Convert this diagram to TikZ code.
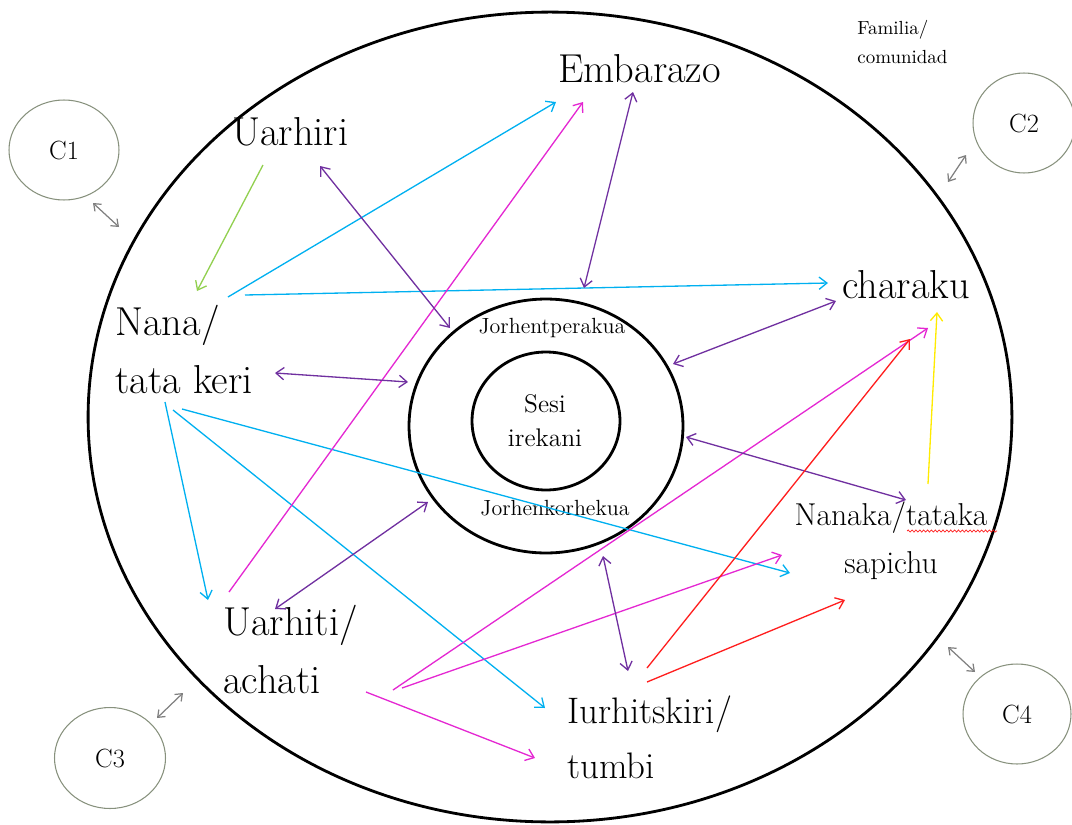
\documentclass[tikz,border=0pt]{standalone}
\usetikzlibrary{arrows.meta,shapes.geometric,decorations.pathmorphing}
\definecolor{cyanA}{RGB}{0,176,240}
\definecolor{magA}{RGB}{228,40,210}
\definecolor{purA}{RGB}{112,48,160}
\definecolor{grnA}{RGB}{146,208,80}
\definecolor{redA}{RGB}{255,30,30}
\definecolor{yelA}{RGB}{255,235,0}
\definecolor{greyA}{RGB}{128,128,128}
\definecolor{circA}{RGB}{135,145,125}
\tikzset{
  mytip/.tip={Straight Barb[length=4.5pt,width=7pt]},
  smalltip/.tip={Straight Barb[length=3.5pt,width=5.5pt]},
  conn/.style={line width=0.75pt,-{mytip}},
  both/.style={line width=0.75pt,{mytip}-{mytip}},
  cboth/.style={line width=0.7pt,draw=greyA,{smalltip}-{smalltip}},
  ring/.style={ellipse,draw=black,line width=1.6pt,inner sep=0pt},
  cring/.style={ellipse,draw=circA,line width=0.6pt,inner sep=0pt,font=\fontsize{15}{18}\selectfont},
  lbl/.style={inner sep=0pt,text=black},
  big/.style={lbl,font=\fontsize{23}{33}\selectfont},
  mid/.style={lbl,font=\fontsize{21}{31.3}\selectfont},
  nanak/.style={lbl,font=\fontsize{18}{27.3}\selectfont},
  sesit/.style={lbl,font=\fontsize{14.5}{18.8}\selectfont},
  jor/.style={lbl,font=\fontsize{12.5}{15}\selectfont},
  tiny/.style={lbl,font=\fontsize{10.8}{16}\selectfont}
}
\begin{document}
\begin{tikzpicture}[x=0.02cm,y=-0.02cm]
\useasboundingbox (0,0) rectangle (1072,825);
% rings
\node[ring,minimum width=18.48cm,minimum height=16.2cm] (outer) at (550,417) {};
\node[ring,minimum width=5.48cm,minimum height=5.08cm] (middle) at (546,426) {};
\node[ring,minimum width=2.96cm,minimum height=2.76cm] (inner) at (546,421) {};
% C circles
\node[cring,minimum width=2.2cm,minimum height=2.0cm] (c1) at (64,150) {C1};
\node[cring,minimum width=2.04cm,minimum height=2.0cm] (c2) at (1024,123) {C2};
\node[cring,minimum width=2.22cm,minimum height=2.02cm] (c3) at (110,758) {C3};
\node[cring,minimum width=2.16cm,minimum height=2.0cm] (c4) at (1017,714) {C4};
% labels
\node[big,anchor=base west] (uarhiri) at (232,145) {Uarhiri};
\node[big,anchor=base west] (emb) at (558,82) {Embarazo};
\node[big,anchor=base west] (charaku) at (842,298) {charaku};
\node[big,anchor=base west,align=left] (nana) at (115,393) {Nana/\\tata keri};
\node[big,anchor=base west,align=left] (uarhiti) at (223,693) {Uarhiti/\\achati};
\node[mid,anchor=base west,align=left] (iurh) at (567,778) {Iurhitskiri/\\tumbi};
\node[nanak,anchor=base,align=center] (nanaka) at (891,573) {Nanaka/tataka\\sapichu};
\node[sesit,anchor=base,align=center] (sesi) at (545,446) {Sesi\\irekani};
\node[jor,anchor=base] (jorp) at (552,333) {Jorhentperakua};
\node[jor,anchor=base] (jork) at (555,515) {Jorhenkorhekua};
\node[tiny,anchor=base west,align=left] (fam) at (857,63) {Familia/\\comunidad};
% spell-check squiggle
\coordinate (sq1) at (907,531);
\coordinate (sq2) at (997,531);
\draw[redA,line width=0.4pt,decorate,decoration={snake,amplitude=0.6pt,segment length=2.2pt}] (sq1) -- (sq2);
% endpoints
\coordinate (g1) at (263,165); \coordinate (g2) at (197,291);
\coordinate (ca1) at (228,297); \coordinate (ca2) at (556,102);
\coordinate (cb1) at (245,295); \coordinate (cb2) at (828,283);
\coordinate (ma1) at (229,592); \coordinate (ma2) at (583,102);
\coordinate (pa1) at (633,92);  \coordinate (pa2) at (584,288);
\coordinate (pb1) at (320,166); \coordinate (pb2) at (450,328);
\coordinate (pc1) at (275,373); \coordinate (pc2) at (408,382);
\coordinate (pd1) at (836,301); \coordinate (pd2) at (673,364);
\coordinate (pe1) at (686,437); \coordinate (pe2) at (906,500);
\coordinate (pf1) at (275,609); \coordinate (pf2) at (428,502);
\coordinate (pg1) at (603,556); \coordinate (pg2) at (628,671);
\coordinate (cc1) at (165,402); \coordinate (cc2) at (208,600);
\coordinate (cd1) at (173,410); \coordinate (cd2) at (545,708);
\coordinate (ce1) at (182,409); \coordinate (ce2) at (790,573);
\coordinate (mb1) at (393,690); \coordinate (mb2) at (928,328);
\coordinate (mc1) at (402,688); \coordinate (mc2) at (782,555);
\coordinate (md1) at (366,692); \coordinate (md2) at (535,758);
\coordinate (ra1) at (647,668); \coordinate (ra2) at (910,339);
\coordinate (rb1) at (647,682); \coordinate (rb2) at (845,600);
\coordinate (y1) at (928,484);  \coordinate (y2) at (937,312);
\coordinate (k1a) at (93,203);  \coordinate (k1b) at (119,227);
\coordinate (k2a) at (948,182); \coordinate (k2b) at (966,155);
\coordinate (k3a) at (157,718); \coordinate (k3b) at (183,693);
\coordinate (k4a) at (948,647); \coordinate (k4b) at (975,672);
% connectors
\draw[conn,grnA] (g1) -- (g2);
\draw[conn,cyanA] (ca1) -- (ca2);
\draw[conn,cyanA] (cb1) -- (cb2);
\draw[conn,cyanA] (cc1) -- (cc2);
\draw[conn,cyanA] (cd1) -- (cd2);
\draw[conn,cyanA] (ce1) -- (ce2);
\draw[conn,magA] (ma1) -- (ma2);
\draw[conn,magA] (mb1) -- (mb2);
\draw[conn,magA] (mc1) -- (mc2);
\draw[conn,magA] (md1) -- (md2);
\draw[both,purA] (pa1) -- (pa2);
\draw[both,purA] (pb1) -- (pb2);
\draw[both,purA] (pc1) -- (pc2);
\draw[both,purA] (pd1) -- (pd2);
\draw[both,purA] (pe1) -- (pe2);
\draw[both,purA] (pf1) -- (pf2);
\draw[both,purA] (pg1) -- (pg2);
\draw[conn,redA] (ra1) -- (ra2);
\draw[conn,redA] (rb1) -- (rb2);
\draw[conn,yelA] (y1) -- (y2);
\draw[cboth] (k1a) -- (k1b);
\draw[cboth] (k2a) -- (k2b);
\draw[cboth] (k3a) -- (k3b);
\draw[cboth] (k4a) -- (k4b);
\end{tikzpicture}
\end{document}
